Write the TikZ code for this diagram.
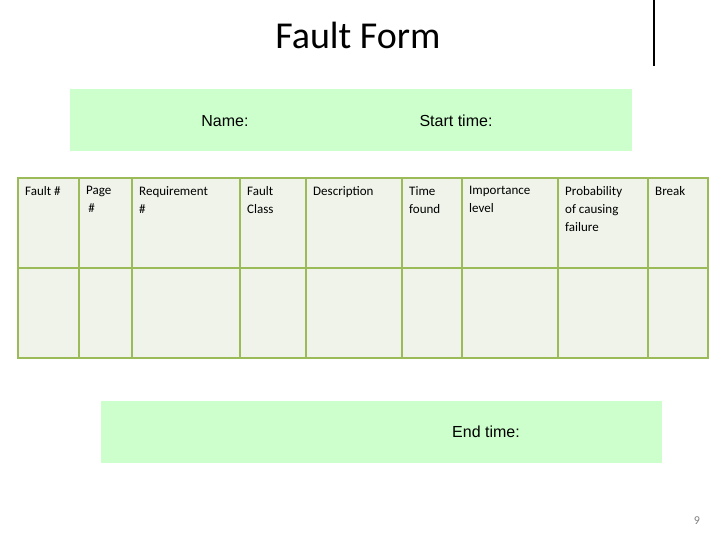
\documentclass[tikz,border=0pt]{standalone}
\usepackage{fontspec}
\setmainfont{Carlito}
\newfontfamily\labelfont{Liberation Sans}
\usetikzlibrary{positioning}
\definecolor{boxgreen}{HTML}{CCFFCC}
\definecolor{cellfill}{HTML}{EFF3EA}
\definecolor{cellline}{HTML}{9BBB59}
\tikzset{
    every picture/.style={x=1pt,y=-1pt},
    greenbox/.style={fill=boxgreen,draw=none},
    cell/.style={fill=cellfill,draw=cellline,line width=1.2pt},
    head/.style={anchor=north west,align=left,font=\fontsize{13}{18}\selectfont,inner sep=0pt},
    field/.style={font=\labelfont\fontsize{16}{18}\selectfont}
}
\begin{document}
\begin{tikzpicture}
    \useasboundingbox (0,0) rectangle (720,540);
    \node (title) at (358,35) {\fontsize{38}{40}\selectfont Fault Form};
    \coordinate (bartop) at (654,0);
    \coordinate (barbot) at (654,66);
    \draw[line width=2pt] (bartop) -- (barbot);
    % top field box
    \fill[greenbox] (70,89) rectangle (632,151);
    \node[field] (name) at (225,121) {Name:};
    \node[field] (start) at (456,121) {Start time:};
    % table
    \foreach \xa/\xb/\txt [count=\i] in {18/79/{Fault \#},79/132/{Page\\\,\#},
        132/240/{Requirement\\\#},240/306/{Fault\\Class},306/402/{Description},
        402/462/{Time\\found},462/558/{Importance\\level},
        558/648/{Probability\\of causing\\failure},648/708/{Break}} {
        \draw[cell] (\xa,178) rectangle (\xb,268);
        \draw[cell] (\xa,268) rectangle (\xb,358);
        \node[head] (h\i) at (\xa+7,186) {\txt};
    }
    % bottom field box
    \fill[greenbox] (101,401) rectangle (662,463);
    \node[field] (end) at (486,432) {End time:};
    \node[text=gray,font=\fontsize{12}{14}\selectfont] (page) at (697,521) {9};
\end{tikzpicture}
\end{document}
